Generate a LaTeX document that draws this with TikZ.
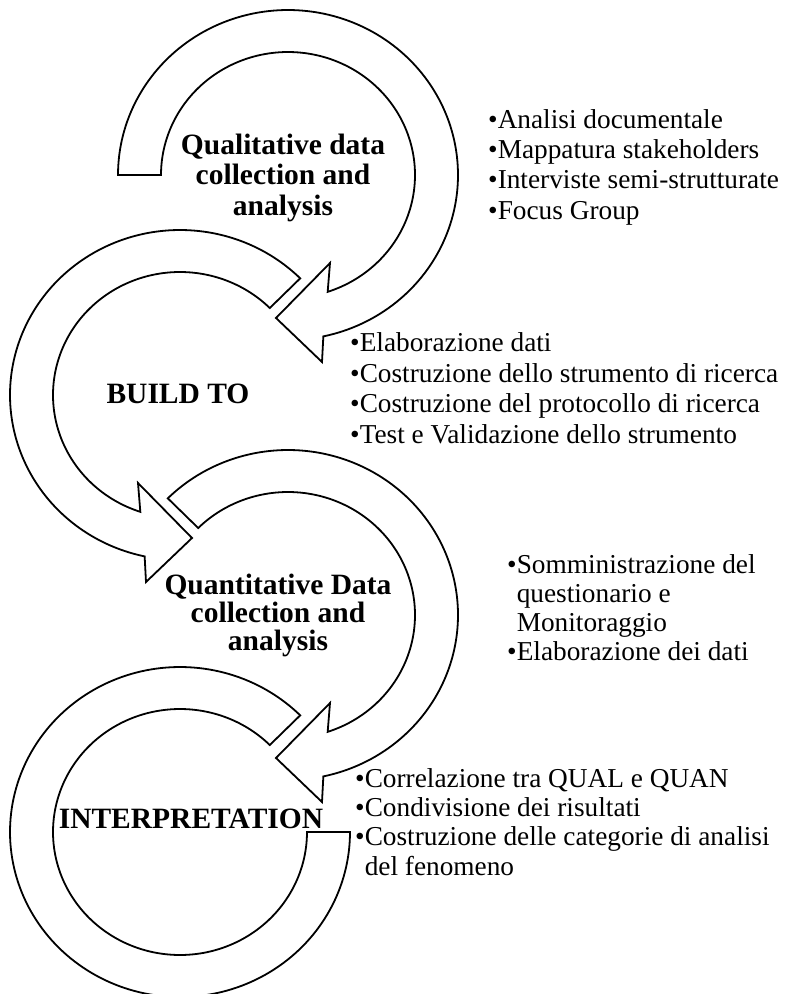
\documentclass[tikz,border=0pt]{standalone}
\usepackage{fontspec}
\setmainfont{Liberation Serif}
\begin{document}
\begin{tikzpicture}[x=1pt,y=-1pt,
  ring/.style={draw=black, fill=white, line width=1.8pt, line join=miter},
  title/.style={font=\fontsize{29.5}{30.5}\selectfont\bfseries, align=center, inner sep=0pt, anchor=base},
  blist/.style={font=\fontsize{27.3}{30.3}\selectfont, align=left, inner sep=0pt, anchor=base west}]
\useasboundingbox (0,0) rectangle (785,994);

% Arrow 1 (Qualitative)
\draw[ring] plot[domain=180:438, samples=150] ({288+170*cos(\x)},{175+165*sin(\x)})
  -- (322,362) -- (276,318) -- (330,263)
  -- plot[domain=431.8:180, samples=150] ({288+127*cos(\x)},{175+123*sin(\x)}) -- cycle;

% Arrow 2 (Build to)
\draw[ring] plot[domain=-45:-258, samples=150] ({180+170*cos(\x)},{395+165*sin(\x)})
  -- (146,582) -- (192,538) -- (138,483)
  -- plot[domain=-251.8:-45, samples=150] ({180+127*cos(\x)},{395+123*sin(\x)}) -- cycle;

% Arrow 3 (Quantitative)
\draw[ring] plot[domain=225:438, samples=150] ({288+170*cos(\x)},{615+165*sin(\x)})
  -- (322,802) -- (276,758) -- (330,703)
  -- plot[domain=431.8:225, samples=150] ({288+127*cos(\x)},{615+123*sin(\x)}) -- cycle;

% Arrow 4 (Interpretation)
\draw[ring] plot[domain=-45:-360, samples=180] ({180+170*cos(\x)},{832+165*sin(\x)})
  -- plot[domain=-360:-45, samples=180] ({180+127*cos(\x)},{832+123*sin(\x)}) -- cycle;

% Titles (multi-line nodes are placed by the baseline of their last line)
\node[title] (t1) at (283,215) {Qualitative data\\collection and\\analysis};
\node[title] (t2) at (178,403) {BUILD TO};
\node[title, font=\fontsize{29.5}{28}\selectfont\bfseries] (t3) at (278,650) {Quantitative Data\\collection and\\analysis};
\node[title] (t4) at (191,828) {INTERPRETATION};

% Lists
\node[blist] (l1) at (488,219) {•Analisi documentale\\•Mappatura stakeholders\\•Interviste semi-strutturate\\•Focus Group};
\node[blist, font=\fontsize{27.3}{30.5}\selectfont] (l2) at (350,443) {•Elaborazione dati\\•Costruzione dello strumento di ricerca\\•Costruzione del protocollo di ricerca\\•Test e Validazione dello strumento};
\node[blist, font=\fontsize{27.3}{29}\selectfont] (l3) at (507,660) {•Somministrazione del\\\phantom{•}questionario e\\\phantom{•}Monitoraggio\\•Elaborazione dei dati};
\node[blist, font=\fontsize{27.3}{29.3}\selectfont] (l4) at (355,875) {•Correlazione tra QUAL e QUAN\\•Condivisione dei risultati\\•Costruzione delle categorie di analisi\\\phantom{•}del fenomeno};
\end{tikzpicture}
\end{document}
